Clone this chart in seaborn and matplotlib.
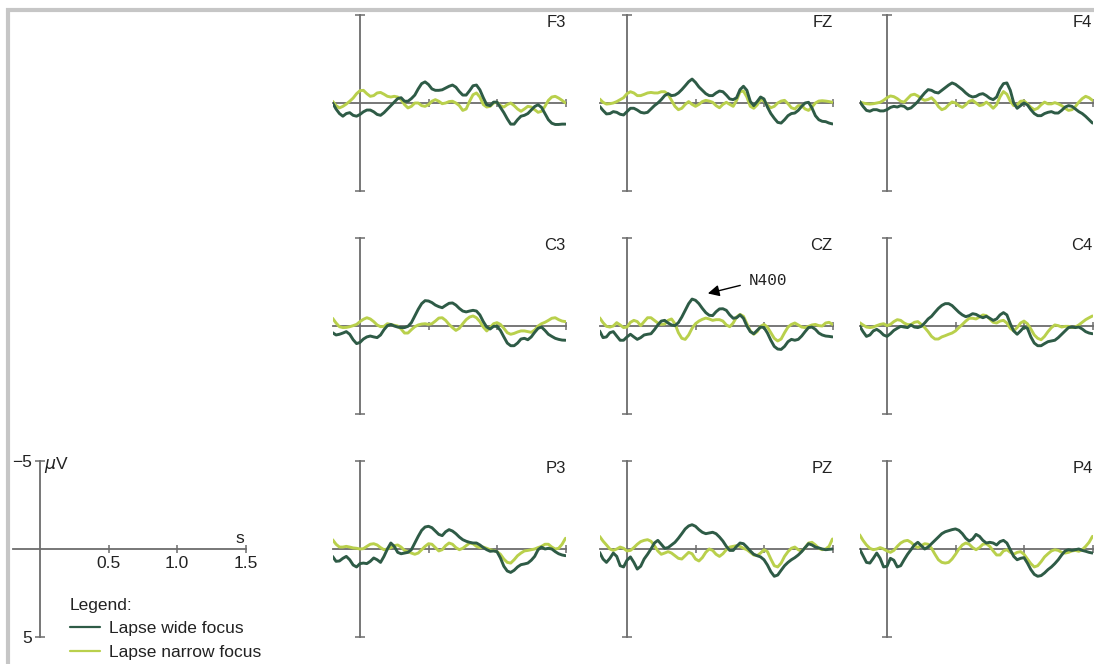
import numpy as np
import pandas as pd
import matplotlib
matplotlib.use("Agg")
import matplotlib.pyplot as plt
from matplotlib.lines import Line2D
import seaborn as sns

# ---------------- data (µV, negative plotted upward) ----------------
conditions = ["Lapse wide focus", "Lapse narrow focus"]
electrodes = [["F3", "FZ", "F4"], ["C3", "CZ", "C4"], ["P3", "PZ", "P4"]]
t_start, t_end = -0.2, 1.5
x_ticks = [0.5, 1.0, 1.5]
x_tick_labels = ["0.5", "1.0", "1.5"]
y_ticks = [-5, 5]
y_tick_labels = ["\u22125", "5"]

F3_wide = [0.0,0.34,0.6,0.75,0.6,0.55,0.7,0.75,0.65,0.5,0.4,0.4,0.5,0.65,0.7,0.55,0.35,0.15,-0.05,-0.25,-0.3,-0.1,-0.1,-0.25,-0.45,-0.8,-1.1,-1.2,-1.05,-0.8,-0.72,-0.72,-0.75,-0.85,-0.95,-1.02,-0.9,-0.65,-0.45,-0.45,-0.7,-0.98,-1.02,-0.75,-0.3,0.1,0.15,-0.05,-0.05,0.25,0.55,0.9,1.2,1.2,0.95,0.75,0.7,0.6,0.4,0.2,0.1,0.25,0.6,0.95,1.15,1.22,1.22,1.2,1.2]
F3_narrow = [-0.1,0.15,0.28,0.19,0.06,-0.1,-0.28,-0.53,-0.7,-0.72,-0.53,-0.38,-0.42,-0.57,-0.6,-0.5,-0.38,-0.34,-0.38,-0.34,-0.19,0.09,0.28,0.19,0.0,0.0,0.15,0.19,0.09,-0.1,-0.19,-0.1,0.04,0.0,-0.08,-0.1,0.0,0.15,0.42,0.34,-0.1,-0.47,-0.57,-0.34,0.09,0.23,0.19,0.0,-0.04,0.15,0.23,0.09,0.0,0.15,0.34,0.47,0.34,0.19,0.23,0.38,0.53,0.47,0.19,-0.15,-0.34,-0.38,-0.28,-0.15,0.0]

FZ_wide = [0.19,0.42,0.62,0.6,0.49,0.53,0.64,0.68,0.49,0.3,0.3,0.4,0.53,0.57,0.53,0.34,0.15,0.0,-0.19,-0.42,-0.53,-0.42,-0.45,-0.57,-0.76,-0.98,-1.21,-1.36,-1.17,-0.91,-0.72,-0.53,-0.42,-0.42,-0.57,-0.68,-0.64,-0.45,-0.23,-0.19,-0.3,-0.76,-0.95,-0.72,-0.09,0.15,-0.08,-0.34,-0.23,0.23,0.6,0.87,1.1,1.14,0.95,0.72,0.6,0.57,0.42,0.19,0.0,-0.04,0.28,0.72,0.95,1.04,1.06,1.14,1.19]
FZ_narrow = [-0.23,-0.04,0.06,0.04,0.0,-0.08,-0.19,-0.3,-0.53,-0.64,-0.57,-0.42,-0.42,-0.49,-0.57,-0.6,-0.57,-0.57,-0.64,-0.64,-0.49,-0.15,0.19,0.38,0.3,0.08,-0.08,0.08,0.19,0.08,-0.08,-0.15,-0.11,-0.04,0.15,0.27,0.08,-0.04,0.08,0.19,-0.15,-0.64,-0.68,-0.34,0.19,0.3,0.11,-0.19,-0.11,0.11,0.27,0.19,0.0,-0.11,-0.15,0.04,0.27,0.34,0.15,0.15,0.34,0.42,0.23,0.0,-0.11,-0.13,-0.11,-0.08,-0.04]

F4_wide = [-0.09,0.19,0.42,0.47,0.38,0.38,0.45,0.45,0.38,0.25,0.19,0.23,0.15,0.19,0.34,0.28,0.11,-0.08,-0.34,-0.57,-0.76,-0.72,-0.61,-0.57,-0.72,-0.87,-1.02,-1.14,-1.06,-0.91,-0.76,-0.57,-0.42,-0.34,-0.38,-0.49,-0.53,-0.42,-0.27,-0.19,-0.34,-0.8,-1.1,-1.14,-0.72,0.0,0.3,0.15,0.0,0.11,0.38,0.6,0.72,0.72,0.6,0.53,0.49,0.57,0.57,0.42,0.23,0.15,0.19,0.34,0.49,0.6,0.76,0.95,1.14]
F4_narrow = [-0.05,0.0,0.04,0.06,0.04,0.0,-0.04,-0.15,-0.3,-0.4,-0.36,-0.25,-0.1,-0.05,-0.25,-0.45,-0.5,-0.4,-0.25,-0.15,-0.2,-0.3,-0.1,0.2,0.38,0.3,0.1,-0.06,0.0,0.15,0.25,0.1,-0.1,-0.15,0.0,0.15,0.1,-0.05,0.1,0.3,0.1,-0.35,-0.65,-0.5,-0.1,0.15,0.1,-0.1,-0.12,0.05,0.25,0.38,0.3,0.1,-0.05,0.05,0.05,-0.02,0.05,0.15,0.3,0.42,0.38,0.2,-0.05,-0.25,-0.38,-0.3,-0.15]

C3_wide = [0.38,0.51,0.47,0.4,0.32,0.47,0.78,1.0,0.93,0.74,0.62,0.57,0.62,0.66,0.51,0.21,-0.02,-0.09,0.0,0.06,0.09,0.09,0.02,-0.19,-0.57,-0.95,-1.27,-1.44,-1.42,-1.33,-1.19,-1.1,-1.04,-1.17,-1.29,-1.31,-1.19,-1.0,-0.85,-0.8,-0.85,-0.89,-0.85,-0.63,-0.25,0.06,0.17,0.02,0.02,0.25,0.62,0.97,1.12,1.12,0.97,0.74,0.7,0.78,0.62,0.36,0.13,0.06,0.25,0.47,0.59,0.7,0.76,0.8,0.81]
C3_narrow = [-0.44,-0.17,0.04,0.09,0.08,0.04,-0.02,-0.09,-0.25,-0.38,-0.47,-0.4,-0.25,-0.06,0.04,0.02,-0.13,-0.09,-0.04,0.0,0.17,0.4,0.4,0.21,0.04,-0.06,-0.11,-0.13,-0.09,-0.13,-0.28,-0.45,-0.47,-0.32,-0.09,0.09,0.25,0.13,-0.13,-0.36,-0.51,-0.57,-0.47,-0.25,0.06,0.28,0.09,-0.13,-0.19,-0.09,0.13,0.38,0.47,0.42,0.34,0.28,0.28,0.32,0.36,0.23,0.0,-0.13,-0.21,-0.32,-0.44,-0.47,-0.36,-0.28,-0.25]

CZ_wide = [0.28,0.66,0.62,0.38,0.32,0.57,0.81,0.81,0.62,0.47,0.62,0.76,0.66,0.51,0.47,0.44,0.21,-0.06,-0.28,-0.32,-0.17,-0.06,-0.02,-0.19,-0.51,-0.89,-1.27,-1.53,-1.46,-1.27,-1.0,-0.76,-0.61,-0.59,-0.81,-0.97,-0.98,-0.89,-0.63,-0.44,-0.47,-0.63,-0.44,0.0,0.32,0.44,0.25,0.06,0.09,0.4,0.81,1.16,1.31,1.33,1.16,0.89,0.76,0.81,0.76,0.57,0.32,0.09,0.06,0.19,0.4,0.51,0.57,0.59,0.62]
CZ_narrow = [-0.47,-0.19,0.02,0.06,0.0,-0.19,-0.06,0.09,0.06,-0.21,-0.32,-0.25,-0.02,-0.25,-0.47,-0.47,-0.32,-0.17,-0.09,-0.11,-0.32,-0.4,-0.13,0.38,0.7,0.76,0.51,0.13,-0.13,-0.28,-0.38,-0.45,-0.4,-0.32,-0.36,-0.36,-0.28,-0.06,0.04,-0.17,-0.51,-0.66,-0.55,-0.13,0.28,0.47,0.32,0.02,-0.09,0.06,0.38,0.7,0.85,0.74,0.38,0.06,-0.09,-0.17,-0.06,0.06,0.09,0.02,-0.06,-0.09,-0.02,0.0,-0.17,-0.21,-0.09]

C4_wide = [0.0,0.32,0.59,0.51,0.28,0.19,0.32,0.51,0.59,0.44,0.25,0.13,0.02,0.06,0.09,-0.06,0.06,0.09,0.02,-0.17,-0.4,-0.55,-0.78,-1.0,-1.17,-1.27,-1.27,-1.16,-0.97,-0.78,-0.63,-0.53,-0.59,-0.7,-0.66,-0.55,-0.47,-0.55,-0.44,-0.32,-0.4,-0.63,-0.76,-0.63,-0.13,0.28,0.47,0.28,0.06,0.13,0.62,0.97,1.12,1.12,1.0,0.89,0.85,0.81,0.66,0.47,0.28,0.09,0.06,0.09,0.06,0.17,0.32,0.4,0.44]
C4_narrow = [-0.19,-0.06,0.06,0.09,0.06,-0.02,-0.09,-0.13,-0.02,-0.09,-0.25,-0.36,-0.32,-0.17,-0.08,-0.08,-0.21,-0.25,-0.09,0.09,0.32,0.59,0.74,0.74,0.62,0.55,0.47,0.4,0.28,0.09,-0.09,-0.28,-0.44,-0.44,-0.4,-0.51,-0.63,-0.59,-0.4,-0.21,-0.17,-0.28,-0.32,-0.17,0.13,0.28,0.09,-0.17,-0.28,-0.13,0.17,0.51,0.7,0.78,0.59,0.32,0.09,-0.06,-0.02,0.06,0.02,0.02,0.09,0.06,-0.06,-0.21,-0.36,-0.47,-0.57]

P3_wide = [0.42,0.7,0.68,0.53,0.42,0.61,0.91,1.02,0.83,0.8,0.83,0.7,0.51,0.61,0.76,0.42,0.0,-0.34,-0.15,0.19,0.27,0.23,0.19,0.04,-0.34,-0.72,-1.06,-1.25,-1.29,-1.21,-1.02,-0.83,-0.76,-0.98,-1.1,-1.02,-0.87,-0.68,-0.53,-0.44,-0.38,-0.34,-0.34,-0.23,-0.08,0.04,0.13,0.11,0.15,0.51,0.98,1.25,1.33,1.21,1.02,0.89,0.85,0.8,0.64,0.42,0.04,-0.11,0.0,-0.04,0.0,0.15,0.27,0.34,0.38]
P3_narrow = [-0.53,-0.27,-0.11,-0.11,-0.15,-0.11,-0.06,-0.04,0.0,-0.02,-0.15,-0.27,-0.3,-0.23,-0.08,0.04,0.0,-0.08,-0.19,-0.23,-0.11,0.08,0.15,0.23,0.3,0.23,0.04,-0.15,-0.3,-0.27,-0.08,0.11,0.04,-0.19,-0.34,-0.27,-0.08,0.04,-0.04,-0.19,-0.34,-0.3,-0.15,-0.08,-0.11,-0.04,0.04,0.08,0.15,0.3,0.57,0.76,0.8,0.61,0.38,0.23,0.11,0.08,0.04,0.0,-0.08,-0.15,-0.27,-0.27,-0.11,0.0,-0.04,-0.27,-0.61]

PZ_wide = [0.19,0.57,0.76,0.53,0.23,0.42,0.95,1.02,0.64,0.45,0.76,1.14,0.98,0.57,0.3,0.0,-0.34,-0.49,-0.27,-0.04,-0.08,-0.23,-0.38,-0.61,-0.87,-1.14,-1.31,-1.38,-1.29,-1.1,-0.95,-0.87,-0.91,-0.95,-0.87,-0.68,-0.45,-0.15,0.08,0.08,-0.15,-0.34,-0.3,-0.11,0.11,0.3,0.38,0.45,0.61,0.91,1.29,1.55,1.48,1.21,0.95,0.76,0.61,0.49,0.34,0.15,-0.08,-0.3,-0.23,-0.11,-0.06,0.0,0.04,0.02,0.0]
PZ_narrow = [-0.72,-0.45,-0.23,0.0,0.08,0.0,-0.11,-0.04,0.11,0.08,-0.08,-0.27,-0.42,-0.49,-0.53,-0.44,-0.19,0.11,0.3,0.23,0.15,0.23,0.38,0.53,0.57,0.38,0.19,0.27,0.57,0.68,0.49,0.19,0.0,0.08,0.3,0.42,0.27,0.04,-0.11,-0.15,-0.19,-0.15,-0.04,0.04,0.19,0.34,0.38,0.23,0.04,0.15,0.57,0.95,1.02,0.8,0.42,0.15,-0.04,-0.11,0.04,0.13,-0.08,-0.34,-0.38,-0.23,-0.04,0.04,0.0,-0.15,-0.57]

P4_wide = [0.0,0.38,0.76,0.8,0.53,0.23,0.53,1.02,0.98,0.53,0.64,1.02,0.95,0.61,0.3,0.04,-0.23,-0.38,-0.19,0.0,-0.11,-0.3,-0.49,-0.68,-0.87,-0.98,-1.04,-1.1,-1.14,-1.06,-0.87,-0.61,-0.45,-0.57,-0.83,-0.72,-0.49,-0.34,-0.38,-0.34,-0.23,-0.42,-0.49,-0.34,0.04,0.42,0.61,0.53,0.49,0.8,1.17,1.44,1.55,1.51,1.36,1.17,1.02,0.83,0.61,0.34,0.11,0.04,0.08,0.04,0.0,0.08,0.13,0.19,0.23]
P4_narrow = [-0.81,-0.49,-0.23,-0.04,0.04,0.0,-0.08,0.0,0.11,0.19,0.08,-0.15,-0.34,-0.45,-0.49,-0.38,-0.19,-0.08,-0.19,-0.3,-0.27,-0.04,0.3,0.61,0.76,0.8,0.76,0.57,0.3,0.0,-0.23,-0.34,-0.27,-0.08,0.04,-0.08,-0.27,-0.3,-0.15,0.11,0.34,0.34,0.11,0.04,0.19,0.3,0.19,0.15,0.3,0.57,0.83,1.02,0.95,0.72,0.45,0.27,0.11,0.04,0.08,0.19,0.23,0.19,0.11,0.08,0.13,0.04,-0.15,-0.38,-0.72]

series = {
    "F3": (F3_wide, F3_narrow), "FZ": (FZ_wide, FZ_narrow), "F4": (F4_wide, F4_narrow),
    "C3": (C3_wide, C3_narrow), "CZ": (CZ_wide, CZ_narrow), "C4": (C4_wide, C4_narrow),
    "P3": (P3_wide, P3_narrow), "PZ": (PZ_wide, PZ_narrow), "P4": (P4_wide, P4_narrow),
}

# ---------------- style ----------------
DARK = "#2e5b46"
LIME = "#b9d04c"
AXC = "#6c6c6c"
TXT = "#222222"
palette = {conditions[0]: DARK, conditions[1]: LIME}

sns.set_style("white")
plt.rcParams["font.family"] = ["Liberation Sans", "DejaVu Sans"]
plt.rcParams["mathtext.fontset"] = "dejavusans"

W, H = 1094, 664
fig = plt.figure(figsize=(W / 100, H / 100), dpi=100)

PX_PER_S = 137.0
PX_PER_5UV = 88.0
col_zero_x = [360, 627, 887]
row_zero_y = [103, 326, 549]


def make_axes(zero_x, zero_y):
    left = (zero_x + t_start * PX_PER_S) / W
    width = (t_end - t_start) * PX_PER_S / W
    bottom = (H - (zero_y + PX_PER_5UV)) / H
    height = 2 * PX_PER_5UV / H
    ax = fig.add_axes([left, bottom, width, height])
    ax.set_xlim(t_start, t_end)
    ax.set_ylim(5, -5)
    ax.patch.set_alpha(0)
    for s in ("top", "right"):
        ax.spines[s].set_visible(False)
    ax.spines["left"].set_position(("data", 0))
    ax.spines["bottom"].set_position(("data", 0))
    ax.spines["left"].set_bounds(-5, 5)
    ax.spines["bottom"].set_bounds(t_start, t_end)
    for s in ("left", "bottom"):
        ax.spines[s].set_color(AXC)
        ax.spines[s].set_linewidth(1.3)
        ax.spines[s].set_zorder(1)
    ax.set_xticks(x_ticks)
    ax.set_yticks(y_ticks)
    ax.tick_params(axis="both", which="major", direction="inout", color=AXC, width=1.1,
                   bottom=True, left=True, top=False, right=False)
    ax.tick_params(axis="x", length=6)
    ax.tick_params(axis="y", length=7)
    ax.set_xlabel("")
    ax.set_ylabel("")
    return ax


for r, row in enumerate(electrodes):
    for c, name in enumerate(row):
        ax = make_axes(col_zero_x[c], row_zero_y[r])
        wide, narrow = series[name]
        df = pd.concat([
            pd.DataFrame({"t": np.linspace(t_start, t_end, len(wide)), "uV": wide,
                          "condition": conditions[0]}),
            pd.DataFrame({"t": np.linspace(t_start, t_end, len(narrow)), "uV": narrow,
                          "condition": conditions[1]}),
        ])
        sns.lineplot(data=df, x="t", y="uV", hue="condition", palette=palette,
                     hue_order=conditions[::-1], estimator=None, sort=False,
                     linewidth=2.1, legend=False, ax=ax, zorder=3)
        ax.set_xlabel("")
        ax.set_ylabel("")
        ax.set_xticklabels([])
        ax.set_yticklabels([])
        ax.text(1.0, 0.955, name, transform=ax.transAxes, ha="right", va="center",
                fontsize=12, color=TXT)
        if name == "CZ":
            ax.annotate("N400", xy=(0.59, -1.85), xytext=(0.89, -2.6),
                        textcoords="data", ha="left", va="center",
                        fontsize=11.5, family=["Liberation Mono", "DejaVu Sans Mono"],
                        color=TXT,
                        arrowprops=dict(arrowstyle="-|>", color="black", lw=1.0,
                                        mutation_scale=17, shrinkA=4, shrinkB=0,
                                        relpos=(0.0, 0.3)))

# ---------------- scale / legend panel ----------------
axs = make_axes(40, 549)
axs.set_xticklabels(x_tick_labels, fontsize=12.5, color=TXT)
axs.set_yticklabels(y_tick_labels, fontsize=12.5, color=TXT)
axs.tick_params(axis="x", pad=2)
axs.tick_params(axis="y", pad=2)
axs.set_xlabel("s", fontsize=12.5, color=TXT)
axs.xaxis.set_label_coords(0.975, 0.56)
axs.xaxis.label.set_va("center")
axs.text(0.135, 0.975, r"$\mu$V", transform=axs.transAxes, ha="left", va="center",
         fontsize=12.5, color=TXT)

handles = [Line2D([], [], color=DARK, lw=1.6), Line2D([], [], color=LIME, lw=1.6)]
leg = fig.legend(handles, conditions, title="Legend:", loc="upper left",
                 bbox_to_anchor=(70 / W, 1 - 598 / H), frameon=False,
                 fontsize=12.5, title_fontsize=12.5, borderpad=0, borderaxespad=0,
                 handlelength=1.75, handletextpad=0.5, labelspacing=0.48)
leg._legend_box.align = "left"
for txt in leg.get_texts():
    txt.set_color(TXT)
leg.get_title().set_color(TXT)

# ---------------- frame (decorative) ----------------
fig.add_artist(Line2D([6 / W, 1.0], [1 - 9.5 / H, 1 - 9.5 / H], transform=fig.transFigure,
                      color="#c6c6c6", lw=3.0, solid_capstyle="butt"))
fig.add_artist(Line2D([8 / W, 8 / W], [0.0, 1 - 8 / H], transform=fig.transFigure,
                      color="#c6c6c6", lw=3.0, solid_capstyle="butt"))

fig.savefig("out.png", dpi=100)
